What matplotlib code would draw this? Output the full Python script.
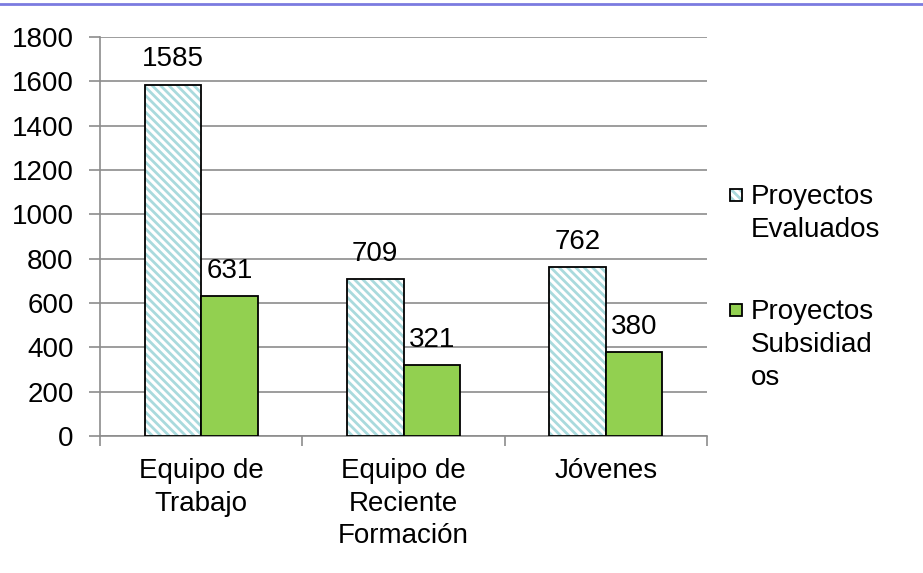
import matplotlib
matplotlib.use("Agg")
import matplotlib.pyplot as plt
import numpy as np
from matplotlib.lines import Line2D
from matplotlib.patches import Rectangle

plt.rcParams['font.family'] = ['Liberation Sans', 'DejaVu Sans']
plt.rcParams['hatch.linewidth'] = 2.0

categories = ["Equipo de\nTrabajo", "Equipo de\nReciente\nFormación", "Jóvenes"]
evaluados = [1585, 709, 762]
subsidiados = [631, 321, 380]
series_names = ["Proyectos\nEvaluados", "Proyectos\nSubsidiad\nos"]
yticks = [0, 200, 400, 600, 800, 1000, 1200, 1400, 1600, 1800]

hatch_col = "#A9DADD"
green = "#92D050"
FS = 20

fig = plt.figure(figsize=(9.23, 5.73), dpi=100)
ax = fig.add_axes([100/923, (573-436)/573, 607/923, (436-37)/573])

x = np.arange(len(categories))
w = 0.28
ax.bar(x - w/2, evaluados, w, color="white", edgecolor=hatch_col, hatch="\\\\\\\\", linewidth=0, zorder=3)
ax.bar(x - w/2, evaluados, w, fill=False, edgecolor="black", linewidth=1.3, zorder=4)
ax.bar(x + w/2, subsidiados, w, color=green, edgecolor="black", linewidth=1.3, zorder=4)

for xi, v in zip(x - w/2, evaluados):
    ax.text(xi, v + 82, str(v), ha="center", va="baseline", fontsize=FS)
for xi, v in zip(x + w/2, subsidiados):
    ax.text(xi, v + 82, str(v), ha="center", va="baseline", fontsize=FS)

ax.set_xlim(-0.5, len(categories) - 0.5)
ax.set_ylim(0, 1800)
ax.set_yticks(yticks)
ax.set_yticklabels([str(t) for t in yticks], fontsize=FS)
ax.yaxis.grid(True, color="#8C8C8C", linewidth=1.2, zorder=0)
ax.set_axisbelow(True)

ax.set_xticks(x)
ax.set_xticklabels(categories, fontsize=FS, linespacing=1.32)
ax.tick_params(axis="x", length=0, pad=16)
ax.set_xticks(np.arange(len(categories) + 1) - 0.5, minor=True)
ax.tick_params(axis="x", which="minor", length=7, color="#8C8C8C", width=1.2, direction="out")
ax.tick_params(axis="y", length=8, color="#8C8C8C", width=1.2, direction="out", pad=11)

for s in ["top", "right"]:
    ax.spines[s].set_visible(False)
for s in ["left", "bottom"]:
    ax.spines[s].set_color("#8C8C8C")
    ax.spines[s].set_linewidth(1.2)

# manual legend (handles aligned with first text line)
W, H = 923, 573
def fx(px): return px / W
def fy(py): return 1 - py / H

leg_items = [
    dict(text=series_names[0], top=184, face="white", hatch="\\\\\\\\"),
    dict(text=series_names[1], top=299, face=green, hatch=None),
]
for it in leg_items:
    cy = it["top"] + 11
    if it["hatch"]:
        fig.add_artist(Rectangle((fx(730), fy(cy + 6)), 12/W, 12/H, transform=fig.transFigure,
                                 facecolor="white", edgecolor=hatch_col, hatch=it["hatch"], linewidth=0))
    fig.add_artist(Rectangle((fx(730), fy(cy + 6)), 12/W, 12/H, transform=fig.transFigure,
                             facecolor=it["face"] if not it["hatch"] else "none",
                             edgecolor="black", linewidth=1.3))
    fig.text(fx(751), fy(it["top"]), it["text"], ha="left", va="top", fontsize=FS, linespacing=1.36)

fig.add_artist(Line2D([0, 1], [1 - 4/573, 1 - 4/573], color="#7B7BE0", linewidth=2, transform=fig.transFigure))

fig.savefig("out.png", dpi=100)
